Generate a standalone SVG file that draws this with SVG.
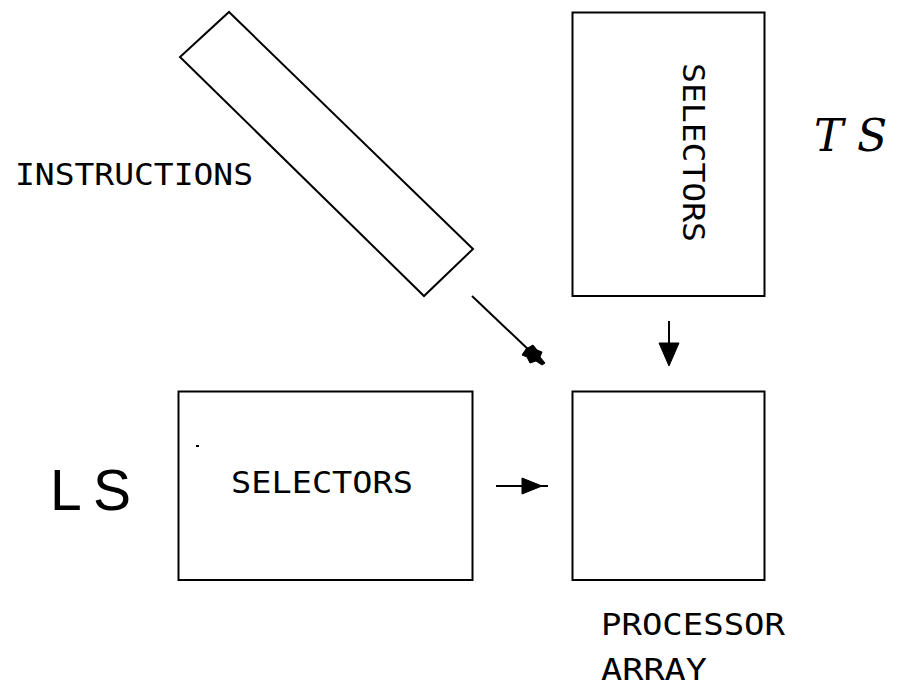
<svg xmlns="http://www.w3.org/2000/svg" width="899" height="692" viewBox="0 0 899 692">
<style>
.box{fill:none;stroke:#000;stroke-width:2}
.conn{fill:none;stroke:#000;stroke-width:2}
.head{fill:#000;stroke:#000;stroke-width:1}
.lbl{font-family:"DejaVu Sans Mono","Liberation Mono",monospace;fill:#000;font-size:30px}
.hand{font-family:"Liberation Sans",sans-serif;fill:#000;font-size:57px}
.ital{font-family:"DejaVu Serif","Liberation Serif",serif;font-style:italic;fill:#000;font-size:44px}
</style>
<rect width="899" height="692" fill="#fff"/>
<g id="instructions">
<polygon class="box" stroke-width="1.6" points="229,12 473,249 424,296 180,57"/>
<text class="lbl" x="15" y="185" font-size="31" textLength="238" lengthAdjust="spacingAndGlyphs">INSTRUCTIONS</text>
</g>
<g id="ts-selectors">
<rect class="box" x="572.5" y="12.5" width="192" height="283.5"/>
<text class="lbl" transform="translate(683,63) rotate(90)" x="0" y="0" textLength="179" lengthAdjust="spacingAndGlyphs">SELECTORS</text>
<text class="ital" y="151"><tspan x="814">T</tspan><tspan x="857">S</tspan></text>
</g>
<g id="ls-selectors">
<rect class="box" x="178.5" y="391.5" width="294" height="188.5"/>
<text class="lbl" x="231" y="493" textLength="182" lengthAdjust="spacingAndGlyphs">SELECTORS</text>
<rect x="196" y="445" width="3" height="2" fill="#000"/>
<text class="hand" y="510"><tspan x="50">L</tspan><tspan x="93">S</tspan></text>
</g>
<g id="processor-array">
<rect class="box" x="572.5" y="391.5" width="192" height="188.5"/>
<text class="lbl" x="601" y="635" textLength="184" lengthAdjust="spacingAndGlyphs">PROCESSOR</text>
<text class="lbl" x="601" y="680" textLength="106" lengthAdjust="spacingAndGlyphs">ARRAY</text>
</g>
<g id="connectors">
<line class="conn" x1="472" y1="296" x2="531" y2="352"/>
<path class="head" d="M526,349 L533,345 L537,350 L542,352 L540,357 L545,363 L542,365 L536,361 L530,363 L527,357 L522,355 Z"/>
<line class="conn" x1="669" y1="321" x2="669" y2="360"/>
<polygon class="head" points="659,343 679,343 669,366"/>
<line class="conn" x1="496" y1="486" x2="548" y2="486"/>
<polygon class="head" points="522,478 542,486 522,494"/>
</g>
</svg>
